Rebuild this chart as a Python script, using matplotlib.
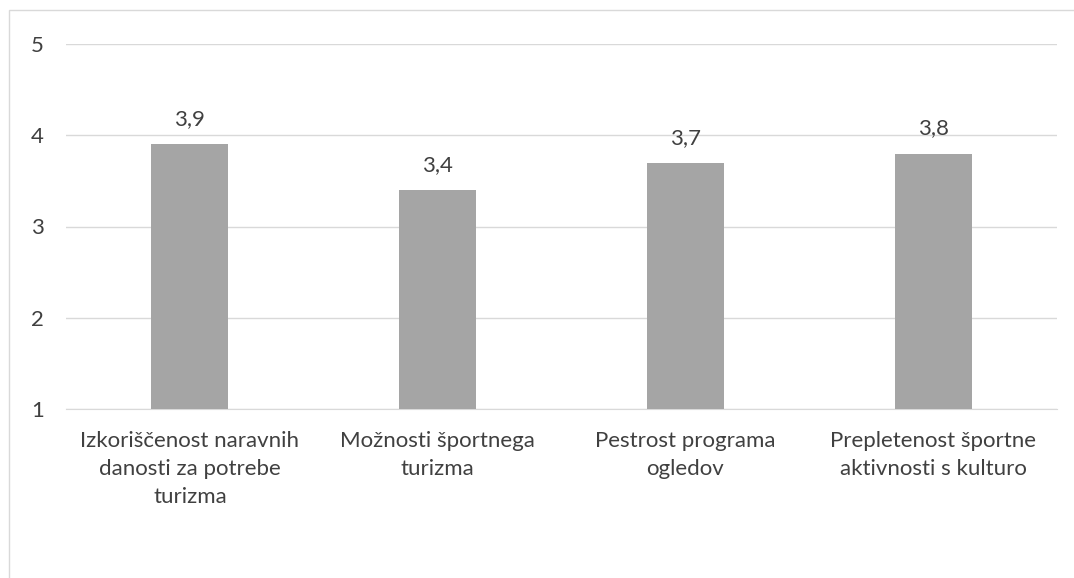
import matplotlib
matplotlib.use("Agg")
import matplotlib.pyplot as plt
from matplotlib.patches import Rectangle

categories = ["Izkoriščenost naravnih\ndanosti za potrebe\nturizma",
              "Možnosti športnega\nturizma",
              "Pestrost programa\nogledov",
              "Prepletenost športne\naktivnosti s kulturo"]
values = [3.9, 3.4, 3.7, 3.8]
value_labels = ["3,9", "3,4", "3,7", "3,8"]
yticks = [1, 2, 3, 4, 5]

plt.rcParams['font.family'] = ['Lato', 'DejaVu Sans']
text_color = "#404040"
fs = 16

W, H = 1074, 578
fig = plt.figure(figsize=(W/100, H/100), dpi=100)
# figure border (only top and left visible in reference)
fig.patches.append(Rectangle((9/W, -0.1), 1.2, (H-10)/H + 0.1, transform=fig.transFigure,
                             fill=False, edgecolor="#D9D9D9", linewidth=1.0))

left, right = 66, 1057
top, bottom = 44, 409
ax = fig.add_axes([left/W, 1-bottom/H, (right-left)/W, (bottom-top)/H])
x = list(range(len(categories)))
ax.bar(x, [v - 1 for v in values], bottom=1, width=0.31, color="#A5A5A5", zorder=3)
ax.set_xlim(-0.5, len(categories)-0.5)
ax.set_ylim(1, 5)
ax.set_yticks(yticks)
ax.set_yticklabels([str(t) for t in yticks])
ax.grid(axis='y', color="#D9D9D9", linewidth=1.0, zorder=0)
ax.set_axisbelow(True)
for s in ["top", "right", "left"]:
    ax.spines[s].set_visible(False)
ax.spines["bottom"].set_color("#D9D9D9")
ax.tick_params(axis='both', length=0, labelsize=fs, colors=text_color)
ax.tick_params(axis='y', pad=16)
ax.tick_params(axis='x', pad=16)
ax.set_xticks(x)
ax.set_xticklabels(categories, linespacing=1.48)
for xi, v, lab in zip(x, values, value_labels):
    ax.annotate(lab, (xi, v), xytext=(0, 15), textcoords="offset pixels",
                ha="center", va="bottom", fontsize=fs, color=text_color)

fig.savefig("out.png", dpi=100)
